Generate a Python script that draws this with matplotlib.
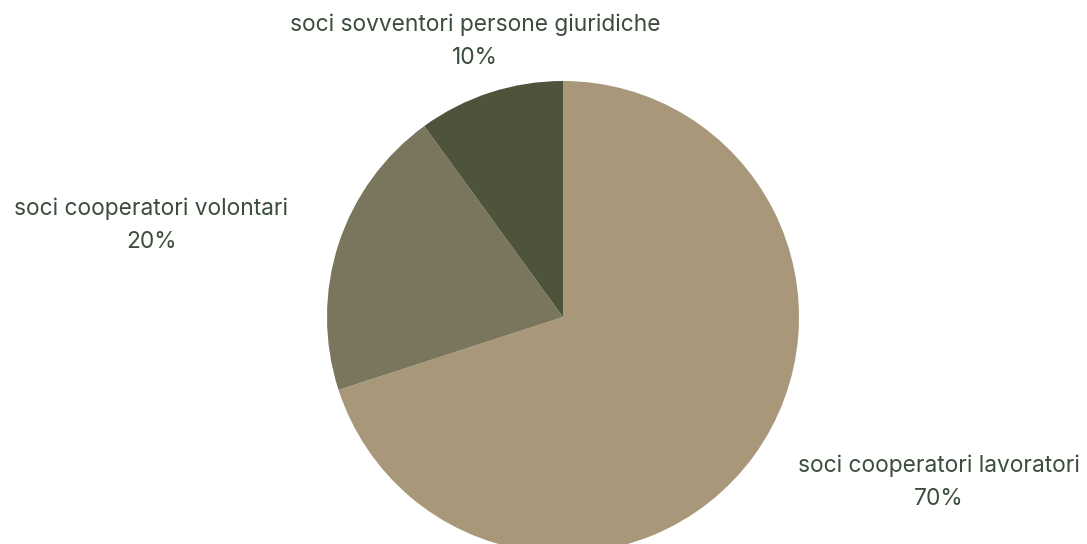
import matplotlib
matplotlib.use("Agg")
import matplotlib.pyplot as plt

labels = ["soci cooperatori lavoratori", "soci cooperatori volontari", "soci sovventori persone giuridiche"]
shares = [70, 20, 10]
colors = ["#A89779", "#7A765D", "#4E533C"]

# label anchor points in pixel space (x, y from top)
label_pos = [(939, 466), (151, 209), (475, 25)]

W, H = 1087, 544
fig = plt.figure(figsize=(W / 100, H / 100), dpi=100)
ax = fig.add_axes([0, 0, 1, 1])

ax.pie(shares, colors=colors, startangle=90, counterclock=False,
       center=(563, H - 317), radius=236, frame=True,
       wedgeprops=dict(linewidth=0))
ax.set_xlim(0, W)
ax.set_ylim(0, H)
ax.set_aspect("equal")
ax.axis("off")

txt_color = "#3B4D3C"
for lab, val, (x, y) in zip(labels, shares, label_pos):
    ax.text(x, H - y, lab, ha="center", va="center", fontsize=16.4,
            color=txt_color, family="Inter")
    ax.text(x, H - y - 33, f"{val}%", ha="center", va="center", fontsize=16.4,
            color=txt_color, family="Inter")

fig.savefig("out.png", dpi=100)
